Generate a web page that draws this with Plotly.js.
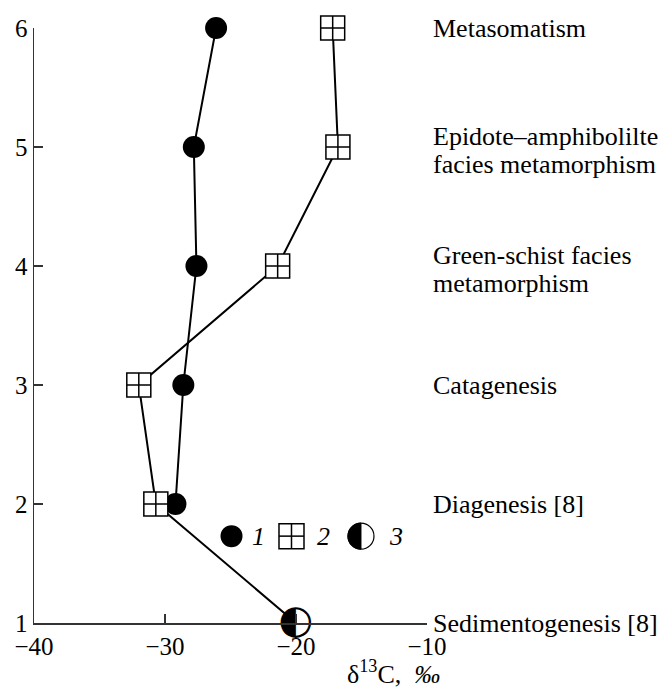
<!DOCTYPE html>
<html><head><meta charset="utf-8">
<script src="https://cdn.plot.ly/plotly-3.0.1.min.js"></script>
<style>html,body{margin:0;padding:0;background:#fff}</style>
</head><body><div id="chart" style="width:665px;height:688px"></div>
<script>
const stageValues = [1, 2, 3, 4, 5, 6];
const stageLabels = ['Sedimentogenesis [8]', 'Diagenesis [8]', 'Catagenesis',
  'Green-schist facies<br>metamorphism', 'Epidote–amphibolilte<br>facies metamorphism', 'Metasomatism'];
const series1Y = [2, 3, 4, 5, 6];
const series1X = [-29.2, -28.6, -27.6, -27.8, -26.1];
const series2Y = [2, 3, 4, 5, 6];
const series2X = [-30.7, -32.0, -21.4, -16.8, -17.2];
const series3Y = [1];
const series3X = [-20.0];
const xTicks = [-40, -30, -20, -10];
const yTicks = [1, 2, 3, 4, 5, 6];
const legendLabels = ['1', '2', '3'];

const serif = '"Liberation Serif", "Times New Roman", serif';
const traces = [
  { x: series3X.concat(series2X), y: series3Y.concat(series2Y), mode: 'lines',
    line: { color: '#000', width: 2 }, cliponaxis: false, hoverinfo: 'skip' },
  { x: series1X, y: series1Y, mode: 'lines+markers', cliponaxis: false,
    line: { color: '#000', width: 2 },
    marker: { symbol: 'circle', size: 22, color: '#000' } },
  { x: series2X, y: series2Y, mode: 'markers', cliponaxis: false,
    marker: { symbol: 'square-cross', size: 24, color: '#fff', line: { color: '#000', width: 1.5 } } },
  { x: series3X, y: series3Y, mode: 'markers+text', cliponaxis: false,
    text: series3X.map(() => '◐'), textposition: 'middle center',
    textfont: { family: 'DejaVu Sans', size: 40, color: '#000' },
    marker: { symbol: 'circle', size: 25, color: '#fff', line: { width: 0 } } }
];

const annotations = [];
const lineGap = 28;
stageValues.forEach((v, i) => {
  const lines = stageLabels[i].split('<br>');
  const n = lines.length;
  lines.forEach((ln, k) => {
    annotations.push({ x: 1, xref: 'paper', xanchor: 'left', xshift: 4, y: v, yref: 'y', yanchor: 'middle',
      yshift: ((n - 1) / 2 - k) * lineGap - (n > 1 ? 3 : 0),
      text: ln, align: 'left', showarrow: false, font: { family: serif, size: 26, color: '#000' } });
  });
});

// legend swatches and labels (paper coordinates)
const legY = 0.146;
const legSymX = [0.5026, 0.6552, 0.832];
const legTextX = [0.5496, 0.715, 0.898];
legendLabels.forEach((lab, i) => {
  annotations.push({ x: legTextX[i], xref: 'paper', xanchor: 'left', y: legY, yref: 'paper', yanchor: 'middle',
    text: '<i>' + lab + '</i>', showarrow: false, font: { family: serif, size: 26, color: '#000' } });
});
function pix(type, xa, extra) {
  return Object.assign({ type: type, xref: 'paper', yref: 'paper', xsizemode: 'pixel', ysizemode: 'pixel',
    xanchor: xa, yanchor: legY, layer: 'above' }, extra);
}
const r3 = 13;
let halfPath = '';
for (let t = 0; t <= 40; t++) {
  const a = Math.PI * t / 40;
  const px = -r3 * Math.sin(a), py = r3 * Math.cos(a);
  halfPath += (t === 0 ? 'M' : 'L') + px.toFixed(2) + ',' + py.toFixed(2);
}
halfPath += 'Z';
const shapes = [
  pix('circle', legSymX[0], { x0: -11, x1: 11, y0: -11, y1: 11, fillcolor: '#000', line: { width: 0 } }),
  pix('rect', legSymX[1], { x0: -12.5, x1: 12.5, y0: -12.5, y1: 12.5, fillcolor: '#fff', line: { color: '#000', width: 1.5 } }),
  pix('line', legSymX[1], { x0: 0, x1: 0, y0: -12.5, y1: 12.5, line: { color: '#000', width: 1.5 } }),
  pix('line', legSymX[1], { x0: -12.5, x1: 12.5, y0: 0, y1: 0, line: { color: '#000', width: 1.5 } }),
  pix('circle', legSymX[2], { x0: -r3, x1: r3, y0: -r3, y1: r3, fillcolor: '#fff', line: { color: '#000', width: 1.2 } }),
  pix('path', legSymX[2], { path: halfPath, fillcolor: '#000', line: { color: '#000', width: 1 } })
];

annotations.push({ x: 0.9135, xref: 'paper', xanchor: 'center', y: -0.052, yref: 'paper', yanchor: 'top',
  text: 'δ<sup>13</sup>C,  <i>‰</i>', showarrow: false, font: { family: serif, size: 26, color: '#000' } });

const axisCommon = {
  showgrid: false, zeroline: false, showline: true, linecolor: '#333', linewidth: 1.5,
  ticks: 'inside', ticklen: 9, tickwidth: 1.5, tickcolor: '#333',
  tickfont: { family: serif, size: 25, color: '#000' }, fixedrange: true
};
const layout = {
  width: 665, height: 688, margin: { l: 34, r: 238, t: 28, b: 65 },
  paper_bgcolor: '#fff', plot_bgcolor: '#fff', showlegend: false,
  xaxis: Object.assign({}, axisCommon, { range: [-40, -10], tickvals: xTicks }),
  yaxis: Object.assign({}, axisCommon, { range: [1, 6], tickvals: yTicks }),
  annotations: annotations, shapes: shapes
};
Plotly.newPlot('chart', traces, layout, { staticPlot: true });
</script></body></html>
